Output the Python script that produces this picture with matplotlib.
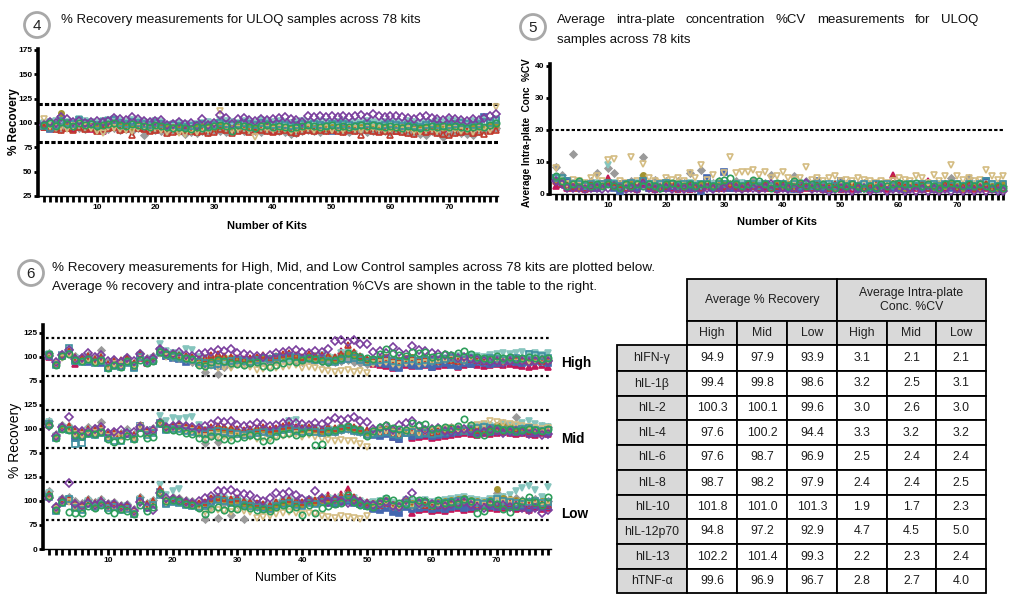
import matplotlib
matplotlib.use("Agg")
import matplotlib.pyplot as plt
import numpy as np
from matplotlib.patches import Circle, Rectangle

plt.rcParams['font.family'] = ['Liberation Sans', 'DejaVu Sans']

# ---------------- DATA ----------------
analytes = ["hIFN-γ", "hIL-1β", "hIL-2", "hIL-4", "hIL-6", "hIL-8", "hIL-10", "hIL-12p70", "hIL-13", "hTNF-α"]

# Panel 4: ULOQ % recovery (kits 1..78)
u_ifng = [96,95,97,96,95,94,96,95,94,93, 92,95,96,94,95,94,96,95,93,94, 93,92,94,93,92,93,94,95,93,94, 93,94,92,93,94,95,93,94,93,92, 93,94,92,91,93,94,93,94,95,93, 94,93,92,94,93,94,93,92,94,93, 92,93,94,92,93,94,93,92,93,94, 92,93,94,92,93,94,93,95]
u_il1b = [96,95,94,93,95,93,96,94,95,92, 94,95,96,93,94,88,95,94,92,93, 94,90,91,92,93,92,91,92,90,91, 94,93,90,92,93,91,92,93,92,91, 92,93,91,90,92,93,92,93,92,93, 92,91,93,92,88,93,92,91,92,88, 92,91,90,89,92,91,92,90,89,88, 90,91,92,90,91,89,92,93]
u_il2 = [99,94,96,104,100,98,101,100,99,98, 100,101,99,98,100,99,101,100,99,98, 97,96,95,96,94,93,95,96,97,98, 99,98,97,99,100,98,97,99,100,98, 99,100,99,98,97,98,99,98,97,92, 98,99,97,98,99,97,98,99,98,97, 98,97,96,97,98,99,98,97,96,98, 97,98,99,98,99,106,101,102]
u_il4 = [97,96,95,94,96,97,95,94,96,93, 92,94,95,93,94,92,95,88,94,93, 92,91,93,92,89,91,90,92,91,93, 92,91,93,94,92,93,92,91,93,94, 92,91,89,90,92,93,92,91,93,94, 93,92,91,93,92,91,92,93,92,91, 93,92,91,90,89,88,92,91,86,90, 91,90,89,88,92,93,94,95]
u_il6 = [100,101,102,103,101,100,104,102,101,100, 102,103,104,102,101,103,102,101,100,102, 101,98,99,100,99,98,99,100,101,100, 103,102,101,100,102,101,100,103,102,101, 102,101,100,101,102,101,100,102,101,100, 101,102,100,101,100,102,101,100,101,100, 101,100,102,101,100,101,100,102,101,103, 102,101,100,102,101,103,102,104]
u_il8 = [98,97,99,110,101,97,99,98,97,96, 97,98,99,98,97,96,98,97,96,97, 96,95,96,95,94,95,96,97,96,95, 97,96,95,96,97,96,95,96,97,96, 95,96,95,94,95,96,95,96,95,96, 96,95,96,95,96,95,96,95,96,95, 95,96,95,94,95,96,95,96,95,96, 95,96,95,96,95,96,97,98]
u_il10 = [98,100,97,101,99,97,100,98,99,97, 98,99,100,98,97,99,98,97,96,98, 97,96,95,96,95,94,96,95,96,97, 98,97,92,98,97,96,95,97,98,96, 97,96,95,96,97,98,97,96,97,98, 96,97,96,97,98,97,98,97,96,97, 96,95,97,96,95,96,97,96,97,96, 97,96,95,96,97,96,98,100]
u_il12 = [104,97,95,96,94,97,98,96,95,92, 90,96,95,94,93,92,95,96,94,95, 93,91,94,90,89,92,91,94,93,96, 112,95,93,94,95,93,86,95,94,93, 95,94,92,93,94,95,93,94,95,93, 94,93,95,94,93,94,95,94,93,94, 95,93,94,92,91,93,94,92,95,93, 94,92,93,91,94,95,93,116]
u_il13 = [98,101,100,106,104,101,102,100,101,102, 101,102,105,104,103,106,104,102,101,102, 103,98,99,101,99,100,97,104,98,100, 108,105,99,104,105,103,102,104,103,104, 105,106,104,103,101,107,106,107,106,107, 106,107,106,107,108,106,109,107,106,107, 107,106,105,104,106,107,105,104,103,105, 104,103,102,104,103,105,107,109]
u_tnf = [97,95,98,102,100,99,103,100,99,98, 101,102,103,100,99,101,100,99,98,100, 99,97,98,97,96,97,98,99,97,98, 100,99,98,99,100,99,98,100,99,98, 99,98,97,98,99,98,99,98,97,99, 98,99,98,97,98,99,98,97,98,99, 98,97,98,97,96,98,99,98,97,98, 99,100,99,98,99,101,100,103]

# Panel 5: ULOQ average intra-plate %CV
c_ifng = [2.5,3,2,2,2.5,1.5,2,2,2.5,5, 3,2,2,2,1.5,3,2,1.5,2,2, 2,1.5,2,1.5,2,2,2.5,2,2,2, 2,2,3,2,3,2,2,2,1.5,2, 2,2,1.5,2,2,2,1.5,2,2,1.5, 2,1.5,2,2,1.5,2,2,1.5,6,2, 1.5,2,2,1.5,4,2,1.5,2,4,2, 1.5,2,1.5,2,2,1.5,2,1.5]
c_il1b = [4,3,3,2.5,2,2,3,2.5,3,4, 2.5,3,2,2.5,3,4,2.5,2,2,2.5, 3,2,2.5,3,2.5,2,3,2.5,2,2.5, 3,2.5,2,3,2.5,2,3,2,2.5,3, 2.5,2,3,2.5,2,3,2.5,2,3,2.5, 2,3,2.5,2,2.5,3,2,2.5,5,3, 2.5,2,2.5,3,2,2.5,2,3,2.5,2, 2.5,3,2,2.5,3,2,2.5,2]
c_il2 = [5,4,4,3,3,2.5,3,2,2.5,3, 2,1,2.5,3,2,4,2,2.5,2,2, 2.5,2,2.5,2,2,1,5,2,2.5,7, 2,2.5,2,3,2.5,2,3,2.5,2,2.5, 2,1.5,2,2.5,2,4,2,1.5,2,4, 2,2.5,1.5,2,2,1.5,2,2.5,2,2, 1.5,2,2.5,2,2,1.5,2,2.5,2,1.5, 2,2.5,2,2,4,2,1.5,2]
c_il4 = [8.5,6,3,12.5,4,3,4,6.5,3,8, 6.5,3,2.5,4,3,11.5,3.5,4.5,3,4, 3,4,3.5,6.5,3,7.5,3,3.5,4,3, 3,4,3.5,3,4,3,3.5,6,3,3.5, 3,5.5,3,4,3,3.5,3,2.5,3,3.5, 3,2.5,3,3.5,2.5,3,2.5,3,3,3.5, 2.5,3,2.5,3,3.5,3,2.5,3,5,3, 2.5,5,3,3.5,3,2.5,3,2.5]
c_il6 = [5,4.5,3,3.5,3,2.5,3,3.5,3,9, 3.5,3,2.5,3,3.5,5,3,2.5,3,3.5, 3,2.5,3,3.5,3,2.5,3,3,3.5,3, 2.5,3,3.5,3,2.5,3,3,2.5,3,3, 2.5,3,3.5,3,2.5,3,3,2.5,3,3, 2.5,3,2.5,3,3,2.5,3,3,2.5,3, 3,2.5,3,3,2.5,3,3,2.5,3,3, 2.5,3,3,2.5,3,3,2.5,3]
c_il8 = [4.5,4,3,3,2.5,3,3.5,3,2.5,3, 3,2.5,3,3.5,3,6,2.5,3,2.5,3, 3,2.5,3,3,2.5,3,3,2.5,3,3, 2.5,3,2.5,3,3,2.5,3,2,3,2.5, 3,2.5,3,2.5,3,2.5,3,2.5,2,3, 2.5,3,2.5,2,3,2.5,3,2.5,3,2.5, 2,3,2.5,3,2.5,2,3,2.5,3,2.5, 2,3,2.5,2,3,2.5,2,3]
c_il10 = [5.5,4,2.5,3,4,3,2.5,3,2.5,3, 2.5,2,3,2.5,3,2.5,3,2.5,2,3, 3.5,3,2.5,3,2.5,3,3,2.5,4,4.5, 5,3,2.5,3,4.5,4,3,2,3.5,3, 2.5,4,3.5,2.5,3,2.5,3,2.5,2,3, 2.5,3,2.5,2,2.5,2,3,2.5,3,3.5, 3,3,3.5,2.5,3,2.5,2,3,3.5,3, 2.5,3,2.5,3,2.5,2,2.5,2]
c_il12 = [8,4,3,4.5,4,3.5,5,5.5,4,10.5, 11,4,3.5,11.5,4,9.5,5,4,3.5,5, 4.5,5,4,6.5,5,9,4.5,6,3.5,6.5, 11.5,6.5,7,7,7.5,6,7,5,5.5,7, 5,4.5,5,8.5,4.5,5,4,5,5.5,4, 4.5,4,5,4.5,4,3.5,4,3.5,4,5, 4.5,4,5.5,5,3.5,6,4,5.5,9,5.5, 4.5,5,4,4.5,7.5,5.5,4.5,5.5]
c_il13 = [4,3,2,2,2,1.5,2,2,1.5,2, 2.5,2,1.5,2,1.5,3,2,1.5,2,2, 1.5,2,1.5,2,2,1.5,2,1.5,2,2, 2.5,2,1.5,2,2,1.5,2,3,1.5,2, 1.5,2,1.5,3.5,1.5,2,1.5,1,1.5,2, 1.5,1,1.5,2,1,1.5,2,1,1.5,1.5, 1,1.5,1,1.5,1,1.5,1,1.5,1,1.5, 1,1.5,1,1.5,1,1.5,1,1]
c_tnf = [5,5,4,3,3,2.5,3,2.5,3,3.5, 3,2.5,3,3.5,3,4,3,2.5,3,3.5, 3,2.5,3,3,2.5,3,3,2.5,3,3, 2.5,3,2.5,3,3,2.5,3,2.5,3,3, 2.5,3,2.5,3,2.5,3,2.5,3,2.5,3, 2.5,3,2.5,3,2.5,3,2.5,3,2.5,3, 2.5,3,2.5,3,2.5,3,2.5,3,2.5,3, 2.5,3,2.5,3,4,3,2.5,3]

# Panel 6: High control % recovery
h_ifng = [100,93,101,104,93,98,96,97,95,91, 93,92,96,90,99,94,97,107,101,100, 99,98,97,96,95,99,100,98,97,96, 95,96,97,98,96,97,99,100,98,97, 101,99,100,98,97,106,108,103,99,95, 93,92,91,88,90,92,91,93,92,90, 91,92,93,90,92,93,92,91,92,93, 92,93,92,91,90,91,92,90]
h_il1b = [102,94,102,106,100,99,101,98,100,93, 96,97,99,94,103,98,100,108,104,103, 102,101,100,98,99,102,103,101,100,99, 98,99,100,102,99,101,103,104,102,100, 103,101,102,101,100,103,112,105,101,98, 97,98,99,97,96,98,99,97,98,97, 96,98,97,96,97,98,97,96,98,97, 96,97,98,97,96,97,96,97]
h_il2 = [101,93,102,105,97,98,95,96,94,89, 92,91,95,90,101,95,96,104,101,99, 98,95,96,94,92,93,91,94,95,96, 97,95,96,98,97,99,100,101,99,97, 100,98,99,97,96,98,99,100,98,96, 95,94,93,90,89,94,92,91,93,90, 93,94,92,91,94,93,95,94,93,94, 95,96,95,94,95,96,95,94]
h_il4 = [104,94,103,108,101,100,102,99,107,95, 97,96,100,94,104,99,101,106,102,101, 100,99,95,98,84,93,82,90,92,94, 95,93,94,95,96,97,98,97,96,95, 97,96,95,94,95,96,97,95,94,93, 97,98,99,97,96,98,99,97,98,97, 96,98,97,96,97,98,97,96,98,97, 96,97,98,97,96,97,96,97]
h_il6 = [103,93,102,106,99,98,100,97,99,92, 95,94,98,92,102,97,99,113,106,104, 103,108,107,100,99,98,97,96,98,97, 96,97,98,96,97,99,98,97,98,99, 100,101,102,100,99,104,105,103,100,96, 97,98,99,97,96,98,99,97,98,97, 98,99,100,101,100,102,101,100,102,103, 104,103,104,105,103,104,102,104]
h_il8 = [102,92,101,105,98,97,99,96,98,91, 94,93,97,91,101,96,98,107,103,102, 101,100,99,97,96,98,99,100,99,98, 97,98,99,100,98,99,101,102,100,99, 101,100,99,100,98,101,103,102,100,97, 98,99,100,98,97,99,100,98,99,98, 97,99,98,97,98,99,98,97,99,98, 97,98,99,98,97,98,97,98]
h_il10 = [103,92,101,103,97,96,98,95,97,89, 92,90,96,92,97,94,96,105,103,102, 101,99,98,92,91,95,97,96,94,93, 92,94,95,91,90,92,94,96,95,97, 99,98,96,95,97,99,104,102,100,99, 98,103,108,104,102,101,105,104,105,100, 101,103,102,104,106,103,100,99,98,101, 99,100,98,99,100,99,98,99]
h_il12 = [100,93,99,102,96,95,97,94,96,90, 93,92,95,91,99,94,96,103,100,99, 98,97,96,92,88,91,89,90,88,92, 91,90,86,87,88,89,90,91,92,89, 90,88,86,85,84,85,86,84,85,83, 93,94,95,93,92,94,95,93,94,95, 96,97,98,97,96,98,97,96,98,97, 96,97,98,97,96,97,96,97]
h_il13 = [101,95,102,107,98,99,104,100,102,96, 97,95,99,96,103,97,99,108,104,103, 105,102,101,103,104,105,107,106,108,104, 103,102,101,100,102,104,105,106,107,105, 104,106,105,108,117,118,116,118,113,114, 105,106,104,110,105,103,111,107,106,104, 103,102,101,99,100,98,97,96,95,96, 94,96,97,96,95,96,97,96]
h_tnf = [102,92,101,109,96,95,97,94,96,88, 91,90,94,89,100,95,97,106,102,100, 99,98,97,95,94,92,93,95,96,97, 96,95,97,99,98,100,99,101,100,98, 99,97,98,96,95,97,98,99,97,95, 96,97,98,96,95,97,98,96,97,96, 97,98,99,98,97,99,98,97,99,98, 97,98,99,98,103,102,101,99]

# Panel 6: Mid control % recovery
m_ifng = [104,93,102,101,93,94,98,97,99,92, 93,94,95,92,101,96,98,106,100,101, 102,100,99,98,97,100,101,100,99,98, 97,98,99,100,98,99,101,102,100,99, 100,99,98,100,99,101,102,100,99,96, 95,94,96,92,90,97,91,92,93,91, 92,93,94,95,96,95,94,96,95,96, 97,96,95,96,95,94,96,95]
m_il1b = [106,94,103,103,98,97,100,99,101,95, 96,95,97,94,103,98,100,107,102,103, 104,102,101,100,99,102,103,102,101,100, 99,100,101,102,100,101,103,104,102,101, 102,101,100,102,101,103,104,102,101,99, 98,97,99,96,95,99,97,98,97,96, 98,99,100,99,98,100,99,98,100,99, 98,99,100,99,98,99,98,99]
m_il2 = [105,92,101,100,91,92,96,95,97,92, 93,94,96,91,103,97,99,106,100,101, 101,99,98,97,96,98,99,98,97,96, 95,96,97,98,97,98,100,101,99,98, 99,98,97,99,98,100,101,99,98,95, 94,93,95,92,90,96,93,94,95,93, 94,95,96,97,98,97,96,98,97,98, 99,98,97,98,97,96,98,97]
m_il4 = [108,95,104,103,99,98,102,101,107,96, 97,96,100,95,104,99,101,108,103,104, 105,103,102,96,85,93,86,95,94,96, 97,96,98,99,97,98,100,101,99,98, 100,101,99,98,97,99,100,98,97,96, 99,100,101,99,98,100,99,98,100,99, 100,101,102,101,100,104,103,102,104,103, 106,104,112,103,102,101,103,102]
m_il6 = [107,93,102,101,97,96,99,98,100,94, 95,94,97,93,102,97,99,114,108,111, 110,111,113,104,99,98,97,99,98,97, 96,97,98,99,97,98,100,108,109,101, 100,101,99,100,99,101,102,100,99,96, 97,98,99,97,96,98,99,97,98,97, 98,99,100,101,100,102,103,104,103,102, 105,104,103,106,108,105,103,102]
m_il8 = [106,92,101,101,96,95,98,97,99,93, 94,93,96,92,104,96,98,107,101,102, 103,101,100,99,98,100,101,100,99,98, 97,98,99,100,98,99,101,102,100,99, 100,99,98,100,99,101,102,100,99,97, 98,99,100,98,97,99,100,98,99,98, 99,100,101,100,99,101,100,99,101,104, 103,102,101,100,101,100,99,100]
m_il10 = [104,91,100,99,94,93,96,95,97,90, 86,89,93,90,96,91,92,106,100,99, 98,96,95,91,90,93,92,90,89,91, 92,94,93,88,89,93,95,96,94,96, 97,83,84,97,99,101,103,100,99,93, 98,102,104,101,100,99,106,104,105,100, 101,102,101,103,110,104,95,94,98,101, 99,100,98,99,100,99,98,100]
m_il12 = [104,92,100,99,95,94,97,96,98,92, 93,92,95,91,102,95,97,105,99,100, 101,99,98,95,92,94,93,92,91,94, 93,92,90,91,90,92,93,94,95,92, 94,92,90,89,88,89,87,88,84,81, 96,97,98,96,95,97,98,96,97,98, 99,100,101,100,99,103,104,105,108,107, 106,105,104,103,102,101,100,101]
m_il13 = [103,93,102,112,99,98,97,100,102,96, 97,99,96,97,102,98,99,106,102,103, 104,103,102,101,103,105,108,107,108,104, 103,104,106,105,103,104,106,107,106,105, 104,106,105,108,111,109,110,113,108,107, 100,101,103,99,104,106,108,103,99,100, 101,98,97,99,100,98,96,97,99,98, 96,97,98,97,95,96,94,95]
m_tnf = [105,91,100,99,84,85,95,94,96,91, 88,87,95,90,101,94,96,105,99,100, 100,98,97,96,95,97,98,97,96,95, 94,95,96,97,96,97,99,100,98,97, 98,97,96,98,97,99,100,98,97,94, 95,96,97,95,94,96,97,95,96,95, 96,97,98,99,98,100,101,102,101,100, 99,98,99,100,101,99,98,99]

# Panel 6: Low control % recovery
l_ifng = [106,93,100,101,95,93,99,96,99,95, 96,93,94,86,102,95,98,111,99,101, 100,98,97,96,97,101,103,102,100,101, 98,97,96,95,94,97,99,100,98,97, 100,99,101,106,104,107,112,103,99,97, 93,92,94,90,89,95,88,91,92,90, 91,90,92,93,91,92,94,95,93,92, 93,94,92,93,91,94,92,93]
l_il1b = [107,94,102,102,98,96,101,98,101,97, 98,95,96,91,103,97,100,112,101,103, 102,100,99,98,99,103,104,103,102,103, 100,99,98,97,96,99,101,102,100,99, 102,101,103,104,103,105,109,104,101,99, 97,96,98,95,94,99,96,97,96,95, 96,97,98,99,100,98,97,96,98,97, 96,98,99,97,96,98,97,96]
l_il2 = [105,91,99,100,94,92,98,95,98,94, 95,92,93,88,101,94,97,109,98,100, 99,97,96,95,96,100,102,101,99,100, 97,96,95,94,93,96,98,99,97,96, 99,98,100,98,97,99,100,98,97,95, 92,91,93,89,88,94,92,93,94,92, 93,92,94,95,93,94,96,97,95,94, 95,96,94,95,93,96,94,95]
l_il4 = [110,95,103,104,100,98,102,99,102,98, 99,96,97,92,104,98,101,110,102,104, 103,101,100,95,81,94,82,98,85,97, 81,95,94,96,95,98,100,101,99,98, 101,100,102,103,102,104,105,103,100,98, 97,96,98,95,94,99,96,97,98,96, 97,98,99,100,101,99,98,97,99,108, 104,102,103,101,100,102,101,100]
l_il6 = [108,93,101,102,96,94,100,97,100,96, 97,94,95,90,102,96,99,117,106,110, 112,99,98,97,98,102,104,103,101,102, 99,98,97,96,95,98,100,101,99,98, 101,100,102,103,102,104,106,103,100,98, 99,100,102,98,97,101,99,100,101,99, 100,101,102,103,104,102,101,100,102,103, 104,106,110,114,116,111,104,115]
l_il8 = [106,92,100,101,95,93,99,96,99,95, 96,93,94,89,102,95,98,110,100,102, 101,99,98,97,98,102,103,102,100,101, 98,97,96,95,94,97,99,100,98,97, 100,99,101,102,101,103,104,102,99,97, 98,99,101,97,96,100,98,99,100,98, 99,100,101,102,103,101,100,99,101,112, 103,102,101,100,99,101,100,99]
l_il10 = [105,91,99,89,88,87,95,93,96,91, 88,92,90,86,96,90,94,108,100,101, 100,97,96,93,86,92,94,91,93,92, 95,93,91,92,90,94,96,92,94,85, 96,87,93,95,97,98,106,99,96,95, 94,100,103,101,98,97,102,101,100,96, 101,98,99,97,102,100,88,90,99,97, 92,89,95,100,104,99,96,104]
l_il12 = [104,92,98,99,94,92,97,94,97,93, 94,91,92,87,100,93,96,107,98,99, 99,96,95,93,89,92,91,90,89,91, 90,89,82,83,84,86,88,89,87,86, 88,86,84,83,82,84,83,82,81,84, 95,96,98,94,93,97,95,96,97,95, 96,97,98,99,100,98,97,96,98,100, 99,100,98,99,97,100,98,99]
l_il13 = [103,94,101,119,97,95,98,96,99,96, 97,94,95,90,99,94,91,108,103,102, 101,99,98,100,103,105,110,110,111,108, 107,106,102,100,103,108,107,109,106,102, 101,110,103,99,102,100,98,101,99,97, 96,97,99,95,94,101,108,98,99,97, 96,95,97,98,99,96,94,93,97,95, 96,94,95,93,91,93,88,91]
l_tnf = [104,90,98,102,93,91,97,94,97,93, 94,91,92,86,100,93,96,106,97,99, 98,96,95,94,95,99,101,100,98,99, 96,95,94,93,92,95,97,98,96,95, 98,97,99,100,99,101,102,100,97,95, 96,97,99,95,94,98,96,97,98,96, 97,98,99,100,101,99,98,97,99,102, 100,99,98,97,99,100,98,99]

# Table values
rec_high = [94.9, 99.4, 100.3, 97.6, 97.6, 98.7, 101.8, 94.8, 102.2, 99.6]
rec_mid  = [97.9, 99.8, 100.1, 100.2, 98.7, 98.2, 101.0, 97.2, 101.4, 96.9]
rec_low  = [93.9, 98.6, 99.6, 94.4, 96.9, 97.9, 101.3, 92.9, 99.3, 96.7]
cv_high  = [3.1, 3.2, 3.0, 3.3, 2.5, 2.4, 1.9, 4.7, 2.2, 2.8]
cv_mid   = [2.1, 2.5, 2.6, 3.2, 2.4, 2.4, 1.7, 4.5, 2.3, 2.7]
cv_low   = [2.1, 3.1, 3.0, 3.2, 2.4, 2.5, 2.3, 5.0, 2.4, 4.0]

band_names = ["High", "Mid", "Low"]
p6_tick_labels = ["0", "75", "100", "125", "75", "100", "125", "75", "100", "125"]
p4_yticks = [25, 50, 75, 100, 125, 150, 175]
p5_yticks = [0, 10, 20, 30, 40]

# ---------------- STYLE ----------------
styles = {
    "hIFN-γ":    ('^', '#C2185B', True, 4.2),
    "hIL-1β":    ('^', '#C0392B', False, 4.8),
    "hIL-2":     ('s', '#4468B0', True, 4.2),
    "hIL-4":     ('D', '#9A9A9A', True, 3.5),
    "hIL-6":     ('v', '#86C5BE', True, 4.8),
    "hIL-8":     ('o', '#A39330', True, 3.8),
    "hIL-10":    ('o', '#2E9E5B', False, 4.6),
    "hIL-12p70": ('v', '#D4BC82', False, 5.0),
    "hIL-13":    ('D', '#7B3F9E', False, 4.2),
    "hTNF-α":    ('s', '#3E8FA0', False, 4.4),
}
draw_order = ["hIFN-γ", "hIL-2", "hIL-4", "hIL-6", "hIL-8", "hIL-1β", "hIL-12p70", "hTNF-α", "hIL-13", "hIL-10"]

p4 = dict(zip(analytes, [u_ifng, u_il1b, u_il2, u_il4, u_il6, u_il8, u_il10, u_il12, u_il13, u_tnf]))
p5 = dict(zip(analytes, [c_ifng, c_il1b, c_il2, c_il4, c_il6, c_il8, c_il10, c_il12, c_il13, c_tnf]))
p6 = {
    "High": dict(zip(analytes, [h_ifng, h_il1b, h_il2, h_il4, h_il6, h_il8, h_il10, h_il12, h_il13, h_tnf])),
    "Mid":  dict(zip(analytes, [m_ifng, m_il1b, m_il2, m_il4, m_il6, m_il8, m_il10, m_il12, m_il13, m_tnf])),
    "Low":  dict(zip(analytes, [l_ifng, l_il1b, l_il2, l_il4, l_il6, l_il8, l_il10, l_il12, l_il13, l_tnf])),
}
band_offset = {"High": 100, "Mid": 25, "Low": -50}   # stacking offsets on the segmented axis

W, H = 1012, 598
fig = plt.figure(figsize=(W / 100, H / 100), dpi=100)
fig.patch.set_facecolor('white')

def add_ax(l, t, r, b):
    return fig.add_axes([l / W, 1 - b / H, (r - l) / W, (b - t) / H])

NARROW = ['Liberation Sans Narrow', 'Liberation Sans', 'DejaVu Sans']

def plot_series(ax, series, offset=0):
    for name in draw_order:
        vals = np.asarray(series[name], dtype=float)
        x = np.arange(1, len(vals) + 1)
        m, c, filled, ms = styles[name]
        ax.plot(x, vals + offset, linestyle='none', marker=m, ms=ms,
                mfc=c if filled else 'none', mec=c, mew=1.2, clip_on=False, zorder=3)

def style_axes(ax, xmax):
    for s in ['top', 'right']:
        ax.spines[s].set_visible(False)
    ax.spines['left'].set_linewidth(2.6)
    ax.spines['bottom'].set_linewidth(1.0)
    kits = list(range(1, 79))
    ax.set_xticks(kits)
    ax.set_xticklabels([str(k) if k % 10 == 0 else '' for k in kits])
    ax.set_xlim(0, xmax)
    ax.tick_params(axis='x', length=4, width=2.0, direction='out', pad=2, labelsize=6)
    ax.tick_params(axis='y', length=3, width=2.0, direction='out', pad=1, labelsize=6)
    for lab in ax.get_xticklabels() + ax.get_yticklabels():
        lab.set_fontweight('bold')
        lab.set_family(NARROW)

# ---- Panel 4 ----
ax4 = add_ax(38, 49, 498, 196)
plot_series(ax4, p4)
ax4.set_ylim(25, 176)
ax4.set_yticks(p4_yticks)
for yv in (120, 80):
    ax4.axhline(yv, color='black', lw=2.2, dashes=(1.4, 0.7), zorder=2)
style_axes(ax4, 78.3)

# ---- Panel 5 ----
ax5 = add_ax(550, 64, 1004, 194)
plot_series(ax5, p5)
ax5.set_ylim(0, 40.5)
ax5.set_yticks(p5_yticks)
ax5.axhline(20, color='black', lw=1.5, dashes=(1.6, 1.0), zorder=2)
style_axes(ax5, 78.1)

# ---- Panel 6 ----
ax6 = add_ax(43, 325, 551, 549)
for band in band_names:
    plot_series(ax6, p6[band], band_offset[band])
    for yv in (120, 80):
        ax6.axhline(yv + band_offset[band], xmin=0.005, color='black', lw=1.6, dashes=(1.2, 1.3), zorder=2)
ax6.set_ylim(0, 233.3)
ax6.set_yticks([0, 25, 50, 75, 100, 125, 150, 175, 200, 225])
ax6.set_yticklabels(p6_tick_labels)
style_axes(ax6, 78.4)

# ---- overlay for text / table ----
ov = fig.add_axes([0, 0, 1, 1])
ov.set_xlim(0, W)
ov.set_ylim(H, 0)
ov.axis('off')

def badge(cx, cy, num):
    ov.add_patch(Circle((cx, cy), 12.5, fill=False, ec='#A8A8A8', lw=2.0))
    ov.text(cx, cy + 0.5, num, ha='center', va='center', fontsize=11, color='#222222')

badge(37, 25, "4")
badge(533, 27, "5")
badge(31, 273, "6")

TTL = 9.5
ov.text(61, 20, "% Recovery measurements for ULOQ samples across 78 kits",
        ha='left', va='center', fontsize=TTL, color='#111111')

# justified title line for panel 5
renderer = fig.canvas.get_renderer()
words = ["Average", "intra-plate", "concentration", "%CV", "measurements", "for", "ULOQ"]
x0, x1 = 557, 978
tw = []
tmp = []
for w in words:
    t = ov.text(0, 0, w, fontsize=TTL)
    tmp.append(t)
    tw.append(t.get_window_extent(renderer).width)
for t in tmp:
    t.remove()
gap = (x1 - x0 - sum(tw)) / (len(words) - 1)
xc = x0
for w, wd in zip(words, tw):
    ov.text(xc, 20, w, ha='left', va='center', fontsize=TTL, color='#111111')
    xc += wd + gap
ov.text(557, 40, "samples across 78 kits", ha='left', va='center', fontsize=TTL, color='#111111')

ov.text(52, 268, "% Recovery measurements for High, Mid, and Low Control samples across 78 kits are plotted below.",
        ha='left', va='center', fontsize=9.7, color='#111111')
ov.text(52, 287, "Average % recovery and intra-plate concentration %CVs are shown in the table to the right.",
        ha='left', va='center', fontsize=9.7, color='#111111')

# axis labels
ov.text(267, 226, "Number of Kits", ha='center', va='center', fontsize=8, fontweight='bold', family=NARROW)
ov.text(777, 222, "Number of Kits", ha='center', va='center', fontsize=8, fontweight='bold', family=NARROW)
ov.text(296, 578, "Number of Kits", ha='center', va='center', fontsize=8.8, family=NARROW)
ov.text(14, 122, "% Recovery", ha='center', va='center', rotation=90, fontsize=8.5, fontweight='bold')
ov.text(527, 133, "Average Intra-plate  Conc  %CV", ha='center', va='center', rotation=90,
        fontsize=7.2, fontweight='bold', family=NARROW)
ov.text(15, 440, "% Recovery", ha='center', va='center', rotation=90, fontsize=10)

for band, yy in zip(band_names, [363, 439, 514]):
    ov.text(561, yy, band, ha='left', va='center', fontsize=9.8, fontweight='bold', family=NARROW)

# ---- table ----
gray = '#D9D9D9'
col_x = [617, 687, 737, 787, 837, 887, 936, 986]
row_y = [279, 321, 345, 371, 396, 420, 445, 470, 495, 519, 544, 569, 593]
TF = ['Liberation Sans', 'DejaVu Sans']
tfs = 8.8
tcol = '#1E1E1E'

def cell(x0, y0, x1, y1, fc):
    ov.add_patch(Rectangle((x0, y0), x1 - x0, y1 - y0, fc=fc, ec='black', lw=1.3))

cell(col_x[1], row_y[0], col_x[4], row_y[1], gray)
cell(col_x[4], row_y[0], col_x[7], row_y[1], gray)
ov.text((col_x[1] + col_x[4]) / 2, (row_y[0] + row_y[1]) / 2, "Average % Recovery",
        ha='center', va='center', fontsize=tfs, family=TF, color=tcol)
ov.text((col_x[4] + col_x[7]) / 2, (row_y[0] + row_y[1]) / 2, "Average Intra-plate\nConc. %CV",
        ha='center', va='center', fontsize=tfs, family=TF, color=tcol, linespacing=1.25)
sub = ["High", "Mid", "Low", "High", "Mid", "Low"]
for j, s in enumerate(sub):
    cell(col_x[j + 1], row_y[1], col_x[j + 2], row_y[2], gray)
    ov.text((col_x[j + 1] + col_x[j + 2]) / 2, (row_y[1] + row_y[2]) / 2, s,
            ha='center', va='center', fontsize=tfs, family=TF, color=tcol)

cols = [rec_high, rec_mid, rec_low, cv_high, cv_mid, cv_low]
for i, name in enumerate(analytes):
    y0, y1 = row_y[i + 2], row_y[i + 3]
    cell(col_x[0], y0, col_x[1], y1, gray)
    ov.text((col_x[0] + col_x[1]) / 2, (y0 + y1) / 2, name, ha='center', va='center',
            fontsize=tfs, family=TF, color=tcol)
    for j, col in enumerate(cols):
        cell(col_x[j + 1], y0, col_x[j + 2], y1, 'white')
        ov.text((col_x[j + 1] + col_x[j + 2]) / 2, (y0 + y1) / 2, f"{col[i]:.1f}",
                ha='center', va='center', fontsize=tfs, family=TF, color=tcol)

fig.savefig("out.png", dpi=100, facecolor='white')
